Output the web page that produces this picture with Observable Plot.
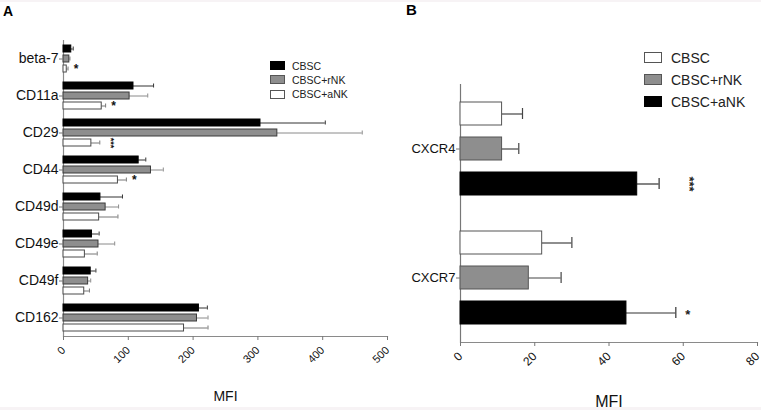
<!DOCTYPE html>
<html><head><meta charset="utf-8">
<script src="https://cdn.jsdelivr.net/npm/d3@7"></script>
<script src="https://cdn.jsdelivr.net/npm/@observablehq/plot@0.6"></script>
<style>
body{margin:0;background:#f7f3f5;font-family:Arial,"Liberation Sans",sans-serif;}
#root{position:relative;width:761px;height:410px;overflow:hidden;}
#paper{position:absolute;left:0;top:2px;width:761px;height:405px;background:#fff;}
.panel{position:absolute;top:0;}
.plabel{position:absolute;font-weight:bold;color:#000;}
.legend{position:absolute;color:#222;}
.legend .row{position:absolute;left:0;white-space:nowrap;display:flex;align-items:center;}
.legend .sw{display:inline-block;box-sizing:border-box;border:1px solid #555;}
</style></head><body><div id="root"><div id="paper"></div></div>
<script>
// ---- data ----
const groups = ["CBSC", "CBSC+rNK", "CBSC+aNK"];

const catsA = ["beta-7", "CD11a", "CD29", "CD44", "CD49d", "CD49e", "CD49f", "CD162"];
const cbscA    = [12, 108, 304, 116, 57, 44, 42, 209];
const cbscErrA = [3, 31, 100, 11, 34, 11, 8, 13];
const rnkA     = [9, 102, 330, 135, 65, 54, 38, 206];
const rnkErrA  = [1, 28, 131, 19, 20, 25, 4, 17];
const ankA     = [5, 59, 43, 84, 55, 33, 32, 186];
const ankErrA  = [2, 6, 13, 13, 29, 19, 8, 37];
const starsA   = [["beta-7", "*"], ["CD11a", "*"], ["CD29", "***"], ["CD44", "*"]];
const ticksA   = [0, 100, 200, 300, 400, 500];

const catsB = ["CXCR4", "CXCR7"];
const cbscB    = [11.2, 22];
const cbscErrB = [5.5, 8];
const rnkB     = [11.2, 18.4];
const rnkErrB  = [4.5, 8.7];
const ankB     = [47.6, 44.7];
const ankErrB  = [5.9, 13.3];
const starsB   = [["CXCR4", "***"], ["CXCR7", "*"]];
const ticksB   = [0, 20, 40, 60, 80];

// ---- helpers ----
function tidy(cats, vals, errs) {
  return cats.flatMap((c, i) => groups.map((g, j) => ({cat: c, group: g, value: vals[j][i], err: errs[j][i]})));
}
const dataA = tidy(catsA, [cbscA, rnkA, ankA], [cbscErrA, rnkErrA, ankErrA]);
const dataB = tidy(catsB, [cbscB, rnkB, ankB], [cbscErrB, rnkErrB, ankErrB]);

const fillA = {"CBSC": "#000", "CBSC+rNK": "#8e8e8e", "CBSC+aNK": "#fff"};
const strokeA = {"CBSC": "#000", "CBSC+rNK": "#3a3a3a", "CBSC+aNK": "#4a4a4a"};
const errA = {"CBSC": "#333", "CBSC+rNK": "#8a8a8a", "CBSC+aNK": "#777"};
const fillB = {"CBSC": "#fff", "CBSC+rNK": "#8e8e8e", "CBSC+aNK": "#000"};
const strokeB = {"CBSC": "#555", "CBSC+rNK": "#555", "CBSC+aNK": "#000"};
const errB = {"CBSC": "#444", "CBSC+rNK": "#444", "CBSC+aNK": "#333"};

const font = "Arial, 'Liberation Sans', sans-serif";

function starData(cats, stars, data) {
  return stars.map(([c, s]) => {
    const d = data.find(e => e.cat === c && e.group === "CBSC+aNK");
    return {cat: c, group: "CBSC+aNK", text: s, end: d.value + d.err, rot: s.length > 1};
  });
}
const sA = starData(catsA, starsA, dataA);
const sB = starData(catsB, starsB, dataB);

// ---- panel A ----
const plotA = Plot.plot({
  width: 400, height: 410,
  marginLeft: 63, marginRight: 13, marginTop: 36, marginBottom: 71,
  style: {fontFamily: font, background: "transparent", overflow: "visible"},
  x: {domain: [0, 500]},
  y: {domain: groups, paddingInner: 0.3, paddingOuter: 0.5, axis: null},
  fy: {domain: catsA, padding: 0, label: null},
  color: {type: "identity"},
  marks: [
    Plot.ruleX([0], {stroke: "#8a8a8a", strokeWidth: 1.2}),
    Plot.frame({anchor: "bottom", facetAnchor: "bottom", stroke: "#8a8a8a", strokeWidth: 1.2}),
    Plot.ruleY(dataA, {x1: "value", x2: d => d.value + d.err, y: "group", fy: "cat", stroke: d => errA[d.group]}),
    Plot.tickX(dataA, {x: d => d.value + d.err, y: "group", fy: "cat", stroke: d => errA[d.group], insetTop: 1.5, insetBottom: 1.5}),
    Plot.barX(dataA, {x: "value", y: "group", fy: "cat", fill: d => fillA[d.group], stroke: d => strokeA[d.group], strokeWidth: 1}),
    Plot.text(sA.filter(d => !d.rot), {x: "end", y: "group", fy: "cat", text: "text", dx: 8, fontSize: 12, fontWeight: "bold", fill: "#111"}),
    Plot.text(sA.filter(d => d.rot), {x: "end", y: "group", fy: "cat", text: "text", dx: 11, rotate: 90, fontSize: 9, fontWeight: "bold", fill: "#111"}),
    Plot.axisFy({anchor: "left", tickSize: 4, tickPadding: 1, fontSize: 14, stroke: "#777", fill: "#111", label: null}),
    Plot.axisX({ticks: ticksA, tickSize: 4, tickRotate: -45, fontSize: 11, stroke: "#777", fill: "#111", label: null}),
    Plot.axisX({ticks: [], label: "MFI", labelArrow: "none", labelAnchor: "center", labelOffset: 64, fontSize: 14, fill: "#111"})
  ]
});

// ---- panel B ----
const plotB = Plot.plot({
  width: 361, height: 410,
  marginLeft: 60, marginRight: 4, marginTop: 83, marginBottom: 68,
  style: {fontFamily: font, background: "transparent", overflow: "visible"},
  x: {domain: [0, 80]},
  y: {domain: groups, paddingInner: 0.34, paddingOuter: 0.5, axis: null},
  fy: {domain: catsB, padding: 0, label: null},
  color: {type: "identity"},
  marks: [
    Plot.ruleX([0], {stroke: "#777", strokeWidth: 1.2}),
    Plot.frame({anchor: "bottom", facetAnchor: "bottom", stroke: "#8a8a8a", strokeWidth: 1.2}),
    Plot.ruleY(dataB, {x1: "value", x2: d => d.value + d.err, y: "group", fy: "cat", stroke: d => errB[d.group], strokeWidth: 1.2}),
    Plot.tickX(dataB, {x: d => d.value + d.err, y: "group", fy: "cat", stroke: d => errB[d.group], strokeWidth: 1.2, insetTop: 6, insetBottom: 6}),
    Plot.barX(dataB, {x: "value", y: "group", fy: "cat", fill: d => fillB[d.group], stroke: d => strokeB[d.group], strokeWidth: 1}),
    Plot.text(sB.filter(d => !d.rot), {x: "end", y: "group", fy: "cat", text: "text", dx: 12, dy: 2, fontSize: 13, fontWeight: "bold", fill: "#222"}),
    Plot.text(sB.filter(d => d.rot), {x: "end", y: "group", fy: "cat", text: "text", dx: 30, rotate: 90, fontSize: 13, fontWeight: "bold", fill: "#222"}),
    Plot.axisFy({anchor: "left", tickSize: 4, tickPadding: 1, fontSize: 13, stroke: "#777", fill: "#111", label: null}),
    Plot.axisX({ticks: ticksB, tickSize: 4, tickRotate: -45, fontSize: 12, stroke: "#777", fill: "#111", label: null}),
    Plot.axisX({ticks: [], label: "MFI", labelArrow: "none", labelAnchor: "center", labelOffset: 64, fontSize: 16, fill: "#111"})
  ]
});

// ---- assemble ----
const root = document.getElementById("root");
function place(el, left) { el.classList.add("panel"); el.style.left = left + "px"; root.appendChild(el); }
place(plotA, 0);
place(plotB, 400);

function label(text, left, top, size) {
  const d = document.createElement("div");
  d.className = "plabel"; d.textContent = text;
  d.style.left = left + "px"; d.style.top = top + "px"; d.style.fontSize = size + "px";
  root.appendChild(d);
}
label("A", 3, 3, 14);
label("B", 406, 1, 15);

function legend(left, top, fills, sw, sh, gap, size) {
  const d = document.createElement("div");
  d.className = "legend"; d.style.left = left + "px"; d.style.top = top + "px"; d.style.fontSize = size + "px";
  groups.forEach((g, i) => {
    const r = document.createElement("div");
    r.className = "row"; r.style.top = (i * gap) + "px"; r.style.height = sh + "px";
    const s = document.createElement("span");
    s.className = "sw"; s.style.width = sw + "px"; s.style.height = sh + "px"; s.style.background = fills[g];
    s.style.borderColor = fills[g] === "#000" ? "#000" : "#555";
    s.style.marginRight = (size > 11 ? 9 : 7) + "px";
    const t = document.createElement("span"); t.textContent = g;
    r.appendChild(s); r.appendChild(t); d.appendChild(r);
  });
  root.appendChild(d);
}
legend(270, 61, fillA, 15, 9, 14.3, 10.5);
legend(644, 52, fillB, 18, 11, 22.2, 14);
</script></body></html>
